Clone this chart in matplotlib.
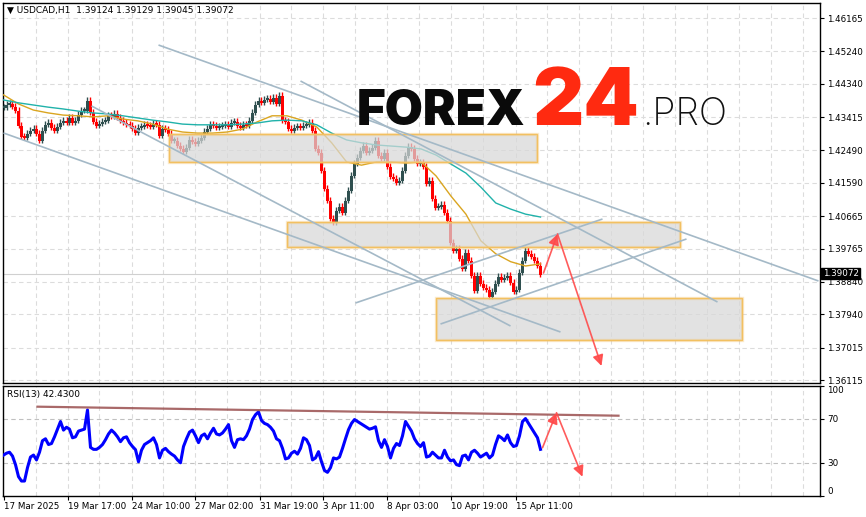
import numpy as np
import matplotlib
matplotlib.use('Agg')
import matplotlib.pyplot as plt
from matplotlib.patches import Rectangle

# ---------------- data ----------------
bar_hours = 3  # each drawn bar = 3 hours of H1 data

closes = [
    1.4369, 1.4378, 1.4381, 1.4372, 1.4361, 1.4320, 1.4289, 1.4286, 1.4297, 1.4306,
    1.4311, 1.4297, 1.4278, 1.4306, 1.4322, 1.4328, 1.4314, 1.4306, 1.4317, 1.4328,
    1.4333, 1.4328, 1.4342, 1.4328, 1.4333, 1.4350, 1.4361, 1.4361, 1.4389, 1.4356,
    1.4331, 1.4320, 1.4325, 1.4331, 1.4333, 1.4347, 1.4345, 1.4353, 1.4342, 1.4333,
    1.4328, 1.4322, 1.4320, 1.4311, 1.4300, 1.4314, 1.4317, 1.4322, 1.4320, 1.4317,
    1.4325, 1.4322, 1.4292, 1.4311, 1.4308, 1.4297, 1.4278, 1.4278, 1.4264, 1.4256,
    1.4247, 1.4258, 1.4281, 1.4275, 1.4270, 1.4278, 1.4286, 1.4303, 1.4311, 1.4322,
    1.4320, 1.4314, 1.4317, 1.4320, 1.4322, 1.4317, 1.4328, 1.4331, 1.4320, 1.4314,
    1.4322, 1.4320, 1.4333, 1.4356, 1.4378, 1.4389, 1.4383, 1.4392, 1.4394, 1.4386,
    1.4397, 1.4381, 1.4403, 1.4333, 1.4331, 1.4311, 1.4306, 1.4314, 1.4317, 1.4314,
    1.4320, 1.4322, 1.4328, 1.4306, 1.4256, 1.4245, 1.4195, 1.4145, 1.4111, 1.4061,
    1.4050, 1.4083, 1.4095, 1.4078, 1.4111, 1.4139, 1.4181, 1.4214, 1.4231, 1.4250,
    1.4264, 1.4245, 1.4250, 1.4258, 1.4278, 1.4236, 1.4228, 1.4245, 1.4206, 1.4178,
    1.4172, 1.4161, 1.4167, 1.4195, 1.4236, 1.4261, 1.4256, 1.4228, 1.4214, 1.4217,
    1.4206, 1.4159, 1.4167, 1.4117, 1.4092, 1.4095, 1.4100, 1.4078, 1.4056, 1.3995,
    1.3973, 1.3978, 1.3950, 1.3923, 1.3967, 1.3945, 1.3903, 1.3862, 1.3903, 1.3881,
    1.3870, 1.3864, 1.3845, 1.3859, 1.3881, 1.3900, 1.3892, 1.3898, 1.3903, 1.3884,
    1.3859, 1.3864, 1.3911, 1.3945, 1.3973, 1.3964, 1.3956, 1.3945, 1.3931, 1.39072,
]

rsi_values = [
    37.2, 38.9, 39.8, 36.3, 28.5, 17.6, 13.6, 13.6, 25.8, 35.4,
    37.2, 32.8, 39.8, 50.3, 52.0, 46.8, 47.7, 53.8, 60.8, 67.7,
    59.9, 62.5, 60.8, 52.9, 53.8, 59.0, 59.9, 60.8, 78.2, 44.2,
    42.4, 42.4, 44.2, 46.8, 51.2, 56.4, 59.9, 57.3, 53.8, 49.4,
    52.9, 53.8, 48.5, 45.0, 42.1, 31.1, 41.6, 46.8, 48.5, 50.3,
    52.9, 46.8, 34.6, 41.6, 43.3, 40.3, 38.1, 36.3, 32.8, 30.2,
    45.0, 52.0, 58.1, 59.9, 54.7, 48.5, 54.7, 56.4, 52.0, 57.3,
    61.6, 56.4, 55.5, 57.3, 60.8, 64.9, 50.3, 44.2, 51.2, 52.0,
    51.2, 54.7, 60.8, 69.5, 73.9, 76.5, 68.6, 66.0, 64.9, 62.5,
    59.0, 52.0, 50.3, 43.3, 33.7, 34.6, 38.9, 40.7, 38.1, 43.3,
    52.9, 51.2, 45.9, 32.8, 34.6, 40.3, 31.1, 23.2, 21.5, 25.8,
    34.6, 33.7, 35.4, 43.3, 52.0, 60.3, 66.0, 69.5, 67.7, 66.0,
    64.3, 62.5, 60.8, 61.6, 62.9, 50.3, 44.2, 51.2, 45.0, 34.6,
    43.3, 47.7, 45.9, 54.7, 67.7, 63.4, 59.0, 52.0, 47.7, 45.0,
    48.5, 35.4, 36.3, 39.8, 37.2, 34.6, 34.6, 41.6, 35.4, 32.0,
    32.8, 28.5, 27.6, 36.3, 37.2, 32.8, 39.8, 41.6, 38.9, 35.4,
    37.2, 38.9, 34.6, 37.2, 46.8, 54.7, 52.9, 50.3, 55.5, 48.5,
    45.0, 45.9, 54.7, 67.7, 70.4, 66.0, 61.6, 57.3, 52.9, 42.43,
]

ma_fast = [
    1.4403, 1.4378, 1.4361, 1.4353, 1.4347, 1.4345, 1.4342, 1.4345, 1.4336, 1.4331,
    1.4322, 1.4308, 1.4300, 1.4297, 1.4297, 1.4300, 1.4308, 1.4328, 1.4345, 1.4345,
    1.4333, 1.4314, 1.4270, 1.4217, 1.4208, 1.4217, 1.4217, 1.4214, 1.4217, 1.4178,
    1.4122, 1.4072, 1.3998, 1.3962, 1.3940, 1.3928, 1.3934,
]
ma_slow = [
    1.4389, 1.4381, 1.4375, 1.4369, 1.4364, 1.4358, 1.4353, 1.4350, 1.4345, 1.4339,
    1.4333, 1.4328, 1.4322, 1.4320, 1.4320, 1.4320, 1.4322, 1.4325, 1.4331, 1.4333,
    1.4331, 1.4320, 1.4297, 1.4278, 1.4270, 1.4264, 1.4261, 1.4258, 1.4253, 1.4236,
    1.4211, 1.4186, 1.4147, 1.4103, 1.4086, 1.4072, 1.4064,
]

price_ticks = [1.46165, 1.45240, 1.44340, 1.43415, 1.42490, 1.41590,
               1.40665, 1.39765, 1.38840, 1.37940, 1.37015, 1.36115]
date_ticks_hours = [0, 64, 128, 192, 256, 320, 384, 448, 512]
date_labels = ['17 Mar 2025', '19 Mar 17:00', '24 Mar 10:00', '27 Mar 02:00',
               '31 Mar 19:00', '3 Apr 11:00', '8 Apr 03:00', '10 Apr 19:00',
               '15 Apr 11:00']
rsi_ticks = [100, 70, 30, 0]
last_price = 1.39072
title_text = 'USDCAD,H1  1.39124 1.39129 1.39045 1.39072'
rsi_text = 'RSI(13) 42.4300'

# drawn objects (hour, price)
zones = [  # (h0, h1, p_low, p_high)
    (166, 534, 1.42168, 1.42945),
    (284, 677, 1.39808, 1.40502),
    (433, 739, 1.37226, 1.38392),
]
trendlines = [  # (h0, p0, h1, p1)
    (155, 1.45415, 815, 1.38864),
    (297, 1.44416, 714, 1.38281),
    (0, 1.42973, 557, 1.37448),
    (88, 1.43722, 507, 1.37615),
    (352, 1.38254, 599, 1.40585),
    (437, 1.37670, 683, 1.40030),
]
arrow_path = [(540, 1.39086), (554, 1.40169), (598, 1.36505)]
rsi_trend = [(34, 81.2), (615, 73.0)]
rsi_arrow_path = [(539, 43.9), (553, 75.7), (579, 17.5)]

# ---------------- figure ----------------
W, H = 866, 517
fig = plt.figure(figsize=(W / 100, H / 100), dpi=100)
fig.patch.set_facecolor('white')

ax = fig.add_axes([3 / W, 1 - 383 / H, 817 / W, 380 / H])
ax2 = fig.add_axes([3 / W, 1 - 496 / H, 817 / W, 110 / H])

px = 0.0002776
ax.set_ylim(1.46165 - 365 * px, 1.46165 + 15 * px)
for a in (ax, ax2):
    a.set_xlim(-0.5, 816.5)
ax2.set_ylim(0, 100)

grid_kw = dict(color='#dcdcdc', lw=0.8, dashes=(4, 3), zorder=0)
for a in (ax, ax2):
    for h in range(32, 817, 32):
        a.axvline(h, **grid_kw)
for p in price_ticks:
    ax.axhline(p, **grid_kw)
for r in (70, 30):
    ax2.axhline(r, color='#c0c0c0', lw=0.8, dashes=(4, 3), zorder=0)

# current price line
ax.axhline(last_price, color='#d0d0d0', lw=0.8, zorder=1)

# candles (bar body = open..close of the 3-hour block, thin range line around it)
t = np.arange(len(closes)) * bar_hours
c = np.array(closes)
o = np.concatenate([[closes[0]], c[:-1]])
lo = np.minimum(o, c)
hi = np.maximum(o, c)
colors = np.where(c >= o, '#2f4f4f', '#ff0000')
wick = 3 * px
ax.vlines(t, lo - wick, hi + wick, colors=colors, lw=1.0, zorder=3)
height = np.maximum(hi - lo, 2.5 * px)
ax.bar(t, height, bottom=lo - 1.2 * px, width=2.7, color=colors, zorder=3, linewidth=0)

# moving averages
ma_t = np.linspace(0, t[-1], len(ma_fast))
ax.plot(ma_t, ma_fast, color='#daa520', lw=1.0, zorder=4)
ax.plot(ma_t, ma_slow, color='#20b2aa', lw=1.0, zorder=4)

# zones
for h0, h1, p0, p1 in zones:
    ax.add_patch(Rectangle((h0, p0), h1 - h0, p1 - p0, facecolor='#d8d8d8',
                           alpha=0.72, edgecolor='none', zorder=5))
    ax.add_patch(Rectangle((h0, p0), h1 - h0, p1 - p0, facecolor='none',
                           edgecolor='#f6c56e', lw=2.4, alpha=0.35, zorder=5))
    ax.add_patch(Rectangle((h0, p0), h1 - h0, p1 - p0, facecolor='none',
                           edgecolor='#f2c061', lw=1.0, zorder=5))

# trend lines
for h0, p0, h1, p1 in trendlines:
    ax.plot([h0, h1], [p0, p1], color='#a4b9c7', lw=1.2, zorder=6,
            solid_capstyle='butt')

# arrows
arrow_kw = dict(arrowstyle='-|>', color='#ff4a4a', lw=1.2, mutation_scale=16,
                shrinkA=0, shrinkB=0, alpha=0.9)
for (x0, y0), (x1, y1) in zip(arrow_path[:-1], arrow_path[1:]):
    ax.annotate('', xy=(x1, y1), xytext=(x0, y0), arrowprops=arrow_kw, zorder=7)
for (x0, y0), (x1, y1) in zip(rsi_arrow_path[:-1], rsi_arrow_path[1:]):
    ax2.annotate('', xy=(x1, y1), xytext=(x0, y0), arrowprops=arrow_kw, zorder=7)

# RSI
rsi_t = np.arange(len(rsi_values)) * bar_hours
ax2.plot(rsi_t, rsi_values, color='#0000ff', lw=2.2, zorder=4)
ax2.plot([rsi_trend[0][0], rsi_trend[1][0]], [rsi_trend[0][1], rsi_trend[1][1]],
         color='#9a4f4f', lw=1.6, zorder=5, alpha=0.85)

# axes styling
for a in (ax, ax2):
    for s in a.spines.values():
        s.set_color('black')
        s.set_linewidth(1.0)
    a.yaxis.tick_right()
    a.tick_params(axis='y', direction='out', length=3, width=0.8, pad=2,
                  labelsize=6.3, colors='black')

ax.set_yticks(price_ticks)
ax.set_yticklabels([f'{p:.5f}' for p in price_ticks])
ax.set_xticks([])

ax2.set_yticks(rsi_ticks)
ax2.set_yticklabels([str(r) for r in rsi_ticks])
for lbl, r in zip(ax2.get_yticklabels(), rsi_ticks):
    if r == 100:
        lbl.set_va('top')
    elif r == 0:
        lbl.set_va('bottom')

ax2.set_xticks(date_ticks_hours)
ax2.set_xticklabels(date_labels, ha='left')
ax2.tick_params(axis='x', direction='out', length=3, width=0.8, pad=1.5,
                labelsize=6.3)

# current price tag
ax.annotate(f'{last_price:.5f}', xy=(1, last_price), xycoords=('axes fraction', 'data'),
            xytext=(2, 0), textcoords='offset points', va='center', ha='left',
            fontsize=6.3, color='white', annotation_clip=False, zorder=20,
            bbox=dict(boxstyle='square,pad=0.15', fc='black', ec='black'))

# texts
fig.text(7 / W, 1 - 10 / H, '\u25BC ' + title_text, fontsize=6.5, va='center', ha='left')
fig.text(7 / W, 1 - 395 / H, rsi_text, fontsize=6.5, va='center', ha='left')

# watermark
base = 1 - 125 / H
fig.text(357 / W, base, 'FOREX', fontsize=35.5, family='Inter', weight='black',
         color='#0a0a0a', va='baseline', ha='left', zorder=8)
fig.text(532 / W, base, '24', fontsize=57, family='Inter', weight='black',
         color='#ff2a10', va='baseline', ha='left', zorder=8)
fig.text(642 / W, base, '.PRO', fontsize=27, family='Inter', weight='light',
         color='#111111', va='baseline', ha='left', zorder=8)

fig.savefig('out.png', dpi=100, facecolor='white')
